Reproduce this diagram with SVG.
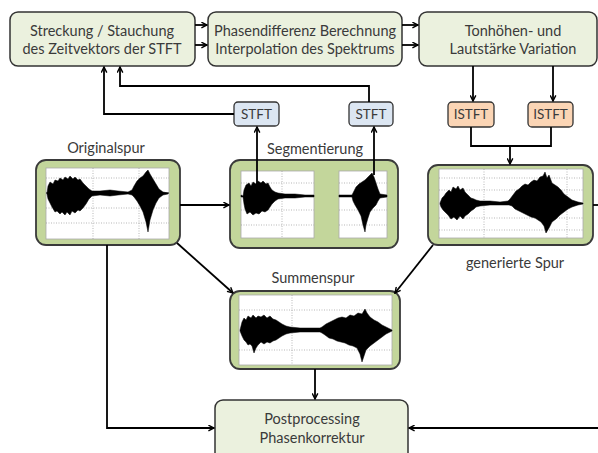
<svg xmlns="http://www.w3.org/2000/svg" width="598" height="453" viewBox="0 0 598 453">
<defs>
<marker id="arr" viewBox="0 0 10 10" refX="9" refY="5" markerWidth="7" markerHeight="7" markerUnits="userSpaceOnUse" orient="auto">
<path d="M1,1 L9,5 L1,9" fill="none" stroke="#000" stroke-width="2"/>
</marker>
<style>
.box{fill:#ebf1de;stroke:#333;stroke-width:1.5}
.stft{fill:#dce6f2;stroke:#333;stroke-width:1.3}
.istft{fill:#fbd5b5;stroke:#333;stroke-width:1.3}
.node{fill:#c3d69b;stroke:#3a3a3a;stroke-width:1.8}
.plot{fill:#fff;stroke:#aaa;stroke-width:0.8}
.grid{stroke:#999;stroke-width:0.7;stroke-dasharray:1 1.5;fill:none}
.wave{fill:#000;stroke:#000;stroke-width:0.5}
.ax{stroke:#000;stroke-width:1}
.t{font-family:Lato,"Liberation Sans",sans-serif;font-size:14.5px;fill:#3a3a3a;text-anchor:middle}
.s{font-family:Lato,"Liberation Sans",sans-serif;font-size:13.5px;fill:#3a3a3a;text-anchor:middle}
.c{fill:none;stroke:#000;stroke-width:1.8}
</style>
</defs>
<rect width="598" height="453" fill="#fff"/>

<g id="n-streckung">
<rect class="box" x="10" y="12" width="185" height="54" rx="8"/>
<text class="t" x="102" y="36">Streckung / Stauchung</text>
<text class="t" x="102" y="54">des Zeitvektors der STFT</text>
</g>
<g id="n-phasendifferenz">
<rect class="box" x="208" y="12" width="194" height="54" rx="8"/>
<text class="t" x="305" y="36">Phasendifferenz Berechnung</text>
<text class="t" x="305" y="54">Interpolation des Spektrums</text>
</g>
<g id="n-tonhoehen">
<rect class="box" x="419" y="12" width="178" height="54" rx="8"/>
<text class="t" x="513" y="36">Tonhöhen- und</text>
<text class="t" x="513" y="54">Lautstärke Variation</text>
</g>

<g id="n-stft1">
<rect class="stft" x="234" y="102" width="45" height="24" rx="4"/>
<text class="s" x="256.5" y="119">STFT</text>
</g>
<g id="n-stft2">
<rect class="stft" x="349" y="102" width="44" height="24" rx="4"/>
<text class="s" x="371" y="119">STFT</text>
</g>
<g id="n-istft1">
<rect class="istft" x="448" y="102" width="46" height="25" rx="4"/>
<text class="s" x="471" y="119">ISTFT</text>
</g>
<g id="n-istft2">
<rect class="istft" x="528" y="102" width="45" height="25" rx="4"/>
<text class="s" x="550.5" y="119">ISTFT</text>
</g>

<g id="n-originalspur">
<text class="t" x="106" y="153">Originalspur</text>
<rect class="node" x="36" y="160" width="144" height="85" rx="10"/>
<rect class="plot" x="46" y="168" width="123" height="71"/>
<path class="grid" d="M93,168V239M139,168V239M46,178H169M46,208H169M46,223H169"/>
<line class="ax" x1="46" y1="193" x2="169" y2="193"/>
<path class="wave" d="M47,193 48,186 50,182 53,184 55,180 58,181 60,178 63,180 65,177 68,179 70,176 73,179 75,177 78,180 80,179 83,183 86,186 89,189 92,191 100,191 110,190 118,191 128,192 132,190 134,186 137,181 140,178 143,176 146,172 148,170 150,174 153,179 156,184 159,189 163,192 168,193 168,194 163,195 159,198 156,203 153,210 150,220 148,232 146,222 143,212 140,206 137,201 134,197 132,195 128,194 118,195 110,196 100,195 92,196 89,199 86,204 83,208 80,211 78,210 75,213 72,211 70,215 67,212 65,215 62,212 60,214 57,211 55,212 52,207 50,203 48,199 47,194Z"/>
</g>

<g id="n-segmentierung">
<text class="t" x="315" y="154">Segmentierung</text>
<rect class="node" x="230" y="160" width="168" height="88" rx="10"/>
<rect class="plot" x="241" y="171" width="73" height="67"/>
<path class="grid" d="M282,171V238M241,183H314M241,210H314M241,225H314"/>
<path class="wave" d="M241,195 243,196 244,190 246,185 249,183 251,186 253,182 256,184 258,181 261,183 263,181 266,184 268,183 270,187 272,190 275,192 278,193 285,194 295,194 305,195 314,195 314,197 305,197 295,198 285,198 278,199 275,201 272,204 270,207 268,210 265,212 262,211 259,214 256,213 253,215 250,212 247,214 245,209 244,204 243,197 241,197Z"/>
<rect class="plot" x="339" y="171" width="48" height="67"/>
<path class="grid" d="M339,183H387M339,210H387M339,225H387"/>
<path class="wave" d="M339,195 352,195 354,191 356,187 359,184 362,182 365,180 368,177 370,175 372,173 374,177 376,183 378,189 380,194 387,195 387,197 380,198 378,201 376,205 373,208 370,212 368,218 366,225 365,232 363,225 361,216 358,210 355,205 353,201 352,197 339,197Z"/>
</g>

<g id="n-generierte">
<rect class="node" x="428" y="165" width="165" height="80" rx="10"/>
<rect class="plot" x="439" y="169" width="144" height="69"/>
<path class="grid" d="M484,169V238M567,169V238M439,178H583M439,190H583M439,218H583M439,230H583"/>
<path class="wave" d="M440,203 442,198 444,196 446,193 449,190 451,192 453,187 456,189 458,186 460,190 463,188 465,192 468,195 471,198 474,199 476,200 480,201 490,201 500,202 508,201 510,199 513,195 516,191 519,189 522,186 525,184 528,185 531,182 534,180 537,181 540,177 543,176 545,172 547,178 549,175 552,183 555,185 558,187 561,190 564,194 568,197 572,200 578,202 583,203 583,204 578,205 572,207 568,209 564,212 560,215 556,219 552,222 549,228 546,233 544,226 541,222 538,220 535,218 531,217 527,215 523,213 519,211 515,209 512,206 509,205 500,205 490,205 480,206 476,207 474,209 471,211 468,214 465,216 463,219 460,216 457,220 454,217 451,219 448,215 446,213 443,210 441,207 440,204Z"/>
<text class="t" x="515" y="268">generierte Spur</text>
</g>

<g id="n-summenspur">
<text class="t" x="313" y="283">Summenspur</text>
<rect class="node" x="230" y="291" width="170" height="78" rx="10"/>
<rect class="plot" x="239" y="295" width="153" height="70"/>
<path class="grid" d="M292,295V365M239,310H392M239,350H392"/>
<path class="wave" d="M240,330 242,322 244,318 246,320 248,316 251,318 253,315 256,318 258,316 261,317 264,315 267,318 270,316 273,319 276,320 279,322 282,324 286,326 290,327 300,328 310,328 320,328 322,327 326,324 330,322 334,320 338,318 342,317 346,318 350,315 354,316 358,313 362,314 365,309 367,313 370,317 374,320 378,322 382,325 386,327 390,329 392,330 392,331 390,332 386,334 382,337 378,340 374,343 370,346 366,350 364,356 362,362 360,354 357,348 353,346 349,345 345,343 341,342 337,341 333,339 329,338 325,335 322,333 320,332 310,332 300,332 290,333 286,334 282,336 279,338 276,340 273,341 270,343 267,342 264,344 261,342 258,345 256,348 254,353 252,346 250,344 248,345 246,342 244,340 242,336 240,331Z"/>
</g>

<g id="n-postprocessing">
<rect class="box" x="215" y="400" width="193" height="62" rx="8"/>
<text class="t" x="312" y="424">Postprocessing</text>
<text class="t" x="312" y="443">Phasenkorrektur</text>
</g>

<g id="connectors">
<path class="c" d="M195,25H207" marker-end="url(#arr)"/>
<path class="c" d="M195,45H207" marker-end="url(#arr)"/>
<path class="c" d="M402,25H418" marker-end="url(#arr)"/>
<path class="c" d="M402,45H418" marker-end="url(#arr)"/>
<path class="c" d="M234,114H104V67" marker-end="url(#arr)"/>
<path class="c" d="M369,102V86H120V67" marker-end="url(#arr)"/>
<path class="c" d="M257,185V127" marker-end="url(#arr)"/>
<path class="c" d="M374,175V127" marker-end="url(#arr)"/>
<path class="c" d="M473,66V101" marker-end="url(#arr)"/>
<path class="c" d="M553,66V101" marker-end="url(#arr)"/>
<path class="c" d="M471,127V146H551V127"/>
<path class="c" d="M510,146V164" marker-end="url(#arr)"/>
<path class="c" d="M180,205H229" marker-end="url(#arr)"/>
<path class="c" d="M177,243L233,293" marker-end="url(#arr)"/>
<path class="c" d="M433,245L395,293" marker-end="url(#arr)"/>
<path class="c" d="M107,245V428H214" marker-end="url(#arr)"/>
<path class="c" d="M315,369V399" marker-end="url(#arr)"/>
<path class="c" d="M593,205H598"/>
<path class="c" d="M598,428H409" marker-end="url(#arr)"/>
</g>
</svg>
